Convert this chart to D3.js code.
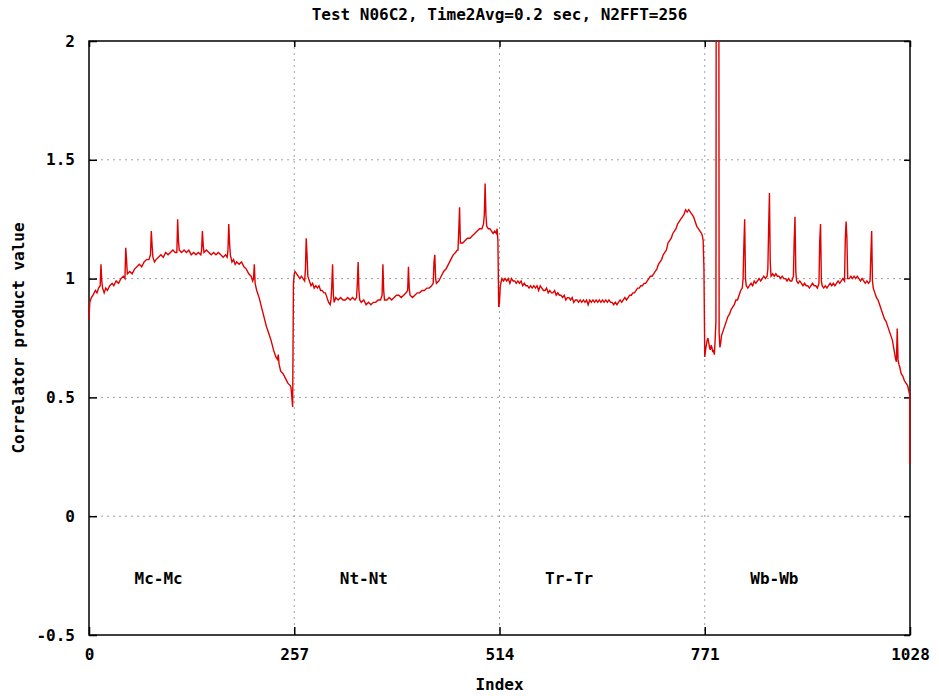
<!DOCTYPE html>
<html>
<head>
<meta charset="utf-8">
<script src="https://cdn.jsdelivr.net/npm/d3@7"></script>
<style>
  body { margin: 0; background: #fff; }
  svg text { font-family: "DejaVu Sans Mono", monospace; font-weight: bold; font-size: 16px; fill: #000; }
  .grid line { stroke: #a0a0a0; stroke-width: 1; stroke-dasharray: 2,4; }
  .axis path { display: none; }
  .axis line { stroke: #000; stroke-width: 1.5; }
</style>
</head>
<body>
<svg id="chart" width="939" height="696"></svg>
<script>
// Values, as [index, correlator product value]
var mcMc = [[0,0.83],[1,0.90],[3,0.92],[5,0.93],[8,0.95],[10,0.94],[12,0.96],[14,0.97],[15,1.06],[16,0.99],[17,0.96],[19,0.94],[21,0.96],[23,0.95],[26,0.97],[29,0.98],[31,0.97],[34,0.99],[37,0.98],[40,1.00],[43,1.01],[45,1.00],[46,1.13],[47,1.08],[48,1.02],[51,1.03],[54,1.02],[57,1.04],[60,1.05],[63,1.06],[66,1.05],[69,1.07],[72,1.08],[75,1.08],[77,1.10],[78,1.20],[79,1.14],[80,1.09],[82,1.07],[84,1.08],[87,1.09],[90,1.10],[93,1.09],[96,1.11],[99,1.10],[102,1.11],[105,1.12],[108,1.11],[110,1.11],[111,1.25],[112,1.16],[113,1.12],[116,1.11],[119,1.12],[122,1.11],[125,1.12],[128,1.10],[131,1.11],[134,1.10],[137,1.11],[140,1.10],[141,1.12],[142,1.20],[143,1.14],[144,1.11],[147,1.12],[150,1.11],[153,1.10],[156,1.11],[159,1.10],[162,1.11],[165,1.10],[168,1.09],[171,1.10],[173,1.09],[174,1.12],[175,1.23],[176,1.15],[177,1.10],[179,1.07],[181,1.08],[183,1.06],[185,1.07],[188,1.06],[191,1.07],[194,1.05],[197,1.04],[200,1.02],[203,1.01],[205,0.99],[206,1.00],[207,1.06],[208,0.98],[210,0.95],[213,0.92],[216,0.88],[219,0.84],[222,0.80],[225,0.77],[228,0.74],[231,0.70],[234,0.67],[236,0.66],[237,0.68],[238,0.64],[240,0.61],[243,0.60],[246,0.58],[249,0.56],[252,0.55],[253,0.54],[254,0.50],[255,0.46]];

var ntNt = [[256,0.98],[257,1.02],[258,1.03],[260,1.02],[262,1.01],[264,1.00],[266,1.01],[268,1.00],[270,0.99],[271,1.04],[272,1.17],[273,1.10],[274,1.01],[276,0.99],[278,0.97],[280,0.98],[282,0.96],[284,0.97],[286,0.96],[288,0.97],[290,0.95],[292,0.95],[294,0.94],[296,0.94],[298,0.92],[300,0.90],[302,0.89],[303,0.91],[304,0.97],[305,1.06],[306,0.93],[307,0.90],[309,0.92],[312,0.91],[315,0.92],[318,0.91],[321,0.91],[324,0.92],[327,0.91],[330,0.92],[333,0.91],[335,0.92],[336,0.98],[337,1.07],[338,0.95],[339,0.91],[341,0.90],[344,0.91],[347,0.89],[350,0.90],[353,0.89],[356,0.90],[359,0.90],[362,0.91],[365,0.91],[367,0.93],[368,1.06],[369,0.95],[370,0.91],[373,0.91],[376,0.92],[379,0.91],[382,0.92],[385,0.93],[388,0.93],[391,0.92],[394,0.93],[397,0.94],[399,0.95],[400,1.05],[401,0.96],[402,0.93],[405,0.92],[408,0.93],[411,0.94],[414,0.94],[417,0.95],[420,0.95],[423,0.96],[426,0.96],[429,0.97],[431,0.98],[432,1.07],[433,1.10],[434,1.00],[435,0.98],[438,0.99],[441,1.01],[444,1.03],[447,1.04],[450,1.06],[453,1.08],[456,1.10],[459,1.11],[461,1.12],[462,1.12],[463,1.20],[464,1.30],[465,1.15],[468,1.15],[471,1.16],[474,1.17],[477,1.17],[480,1.18],[483,1.19],[486,1.20],[489,1.21],[492,1.21],[494,1.23],[495,1.27],[496,1.40],[497,1.27],[498,1.22],[500,1.21],[502,1.21],[504,1.20],[506,1.19],[508,1.20],[510,1.19],[511,1.21],[512,1.16],[513,0.88]];

var trTr = [[514,0.90],[515,0.97],[517,1.00],[519,0.99],[521,1.00],[523,0.99],[525,1.00],[527,0.98],[529,1.00],[531,0.99],[533,0.99],[535,0.98],[537,0.99],[539,0.98],[541,0.99],[543,0.97],[545,0.98],[547,0.97],[549,0.97],[551,0.96],[553,0.97],[555,0.96],[557,0.97],[559,0.96],[561,0.97],[563,0.95],[565,0.97],[567,0.96],[569,0.95],[571,0.95],[573,0.96],[575,0.94],[577,0.95],[579,0.94],[581,0.94],[583,0.95],[585,0.93],[587,0.94],[589,0.93],[591,0.93],[593,0.92],[595,0.93],[597,0.91],[599,0.92],[601,0.92],[603,0.91],[605,0.92],[607,0.90],[609,0.91],[611,0.91],[613,0.90],[615,0.91],[617,0.90],[619,0.91],[621,0.90],[623,0.91],[625,0.89],[627,0.91],[629,0.90],[631,0.91],[633,0.90],[635,0.91],[637,0.90],[639,0.91],[641,0.90],[643,0.91],[645,0.90],[647,0.91],[649,0.90],[651,0.91],[653,0.90],[655,0.90],[657,0.89],[659,0.90],[661,0.89],[663,0.90],[665,0.91],[667,0.90],[669,0.91],[671,0.92],[673,0.91],[675,0.92],[677,0.93],[679,0.93],[681,0.94],[683,0.94],[685,0.95],[687,0.96],[689,0.96],[691,0.97],[693,0.97],[695,0.98],[697,0.98],[699,0.99],[701,1.00],[703,1.01],[705,1.01],[707,1.02],[709,1.03],[711,1.04],[713,1.06],[715,1.07],[717,1.08],[719,1.10],[721,1.11],[723,1.12],[725,1.15],[727,1.16],[729,1.17],[731,1.19],[733,1.20],[735,1.21],[737,1.23],[739,1.24],[741,1.25],[743,1.26],[745,1.27],[747,1.29],[749,1.28],[751,1.29],[753,1.28],[755,1.27],[757,1.26],[759,1.24],[761,1.22],[763,1.21],[765,1.20],[767,1.19],[768,1.18],[769,1.16],[770,1.04]];

var wbWb = [[771,0.67],[772,0.70],[773,0.72],[774,0.74],[775,0.75],[776,0.73],[777,0.71],[778,0.70],[779,0.72],[780,0.71],[781,0.69],[782,0.70],[783,0.68],[784,0.74],[785,0.82],[786,5.0],[787,6.0],[788,5.0],[789,0.77],[790,0.71],[791,0.73],[792,0.76],[794,0.78],[796,0.80],[798,0.82],[800,0.84],[802,0.85],[804,0.87],[806,0.88],[808,0.89],[810,0.91],[812,0.91],[814,0.93],[816,0.95],[818,0.96],[819,1.00],[820,1.14],[821,1.25],[822,1.00],[823,0.97],[825,0.96],[827,0.97],[829,0.98],[831,0.97],[833,0.99],[835,0.98],[837,0.99],[839,1.00],[841,0.99],[843,1.00],[845,1.01],[847,1.00],[849,1.01],[850,1.04],[851,1.21],[852,1.36],[853,1.07],[854,1.01],[856,1.02],[858,1.01],[860,1.02],[862,1.01],[864,1.01],[866,1.00],[868,1.01],[870,1.00],[872,1.00],[874,0.99],[876,1.00],[878,0.99],[880,0.99],[882,1.01],[883,1.16],[884,1.26],[885,1.03],[886,0.99],[888,0.98],[890,0.99],[892,0.98],[894,0.97],[896,0.98],[898,0.97],[900,0.97],[902,0.96],[904,0.97],[906,0.98],[908,0.97],[910,0.97],[912,0.96],[914,0.98],[915,1.16],[916,1.23],[917,0.99],[918,0.97],[920,0.96],[922,0.97],[924,0.96],[926,0.97],[928,0.98],[930,0.97],[932,0.98],[934,0.97],[936,0.98],[938,0.99],[940,0.98],[942,0.99],[944,1.00],[946,0.99],[947,1.17],[948,1.24],[949,1.17],[950,1.00],[952,1.00],[954,1.01],[956,1.00],[958,1.01],[960,1.00],[962,1.01],[964,1.00],[966,0.99],[968,1.00],[970,0.99],[972,0.98],[974,0.99],[976,0.98],[978,0.99],[979,1.10],[980,1.20],[981,0.99],[982,0.96],[984,0.94],[986,0.92],[988,0.91],[990,0.89],[992,0.87],[994,0.85],[996,0.83],[998,0.82],[1000,0.80],[1002,0.78],[1004,0.76],[1006,0.74],[1008,0.70],[1010,0.66],[1011,0.65],[1012,0.79],[1013,0.66],[1014,0.64],[1015,0.63],[1017,0.60],[1019,0.59],[1021,0.57],[1023,0.56],[1025,0.55],[1027,0.52],[1027.6,0.51],[1027.8,0.22]];

var xTicks = [0, 257, 514, 771, 1028];
var yTicks = [-0.5, 0, 0.5, 1, 1.5, 2];
var sectionNames = ["Mc-Mc", "Nt-Nt", "Tr-Tr", "Wb-Wb"];
var sectionIndex = [57, 314, 571, 828];  // left edge of each label
var sectionY = -0.26;

var titleText = "Test N06C2, Time2Avg=0.2 sec, N2FFT=256";

var W = 939, H = 696;
var margin = {top: 41, right: 29, bottom: 61, left: 89};
var iw = W - margin.left - margin.right;
var ih = H - margin.top - margin.bottom;

var svg = d3.select('#chart');
var g = svg.append('g').attr('transform', 'translate(' + margin.left + ',' + margin.top + ')');

var x = d3.scaleLinear().domain([0, 1028]).range([0, iw]);
var y = d3.scaleLinear().domain([-0.5, 2]).range([ih, 0]);

// Grid (dotted gray) - inner ticks only
g.append('g').attr('class', 'grid')
    .selectAll('line').data(yTicks.filter(function(d) { return d > -0.5 && d < 2; }))
    .enter().append('line')
    .attr('x1', 0).attr('x2', iw)
    .attr('y1', function(d) { return y(d); })
    .attr('y2', function(d) { return y(d); });
g.append('g').attr('class', 'grid')
    .selectAll('line').data(xTicks.filter(function(d) { return d > 0 && d < 1028; }))
    .enter().append('line')
    .attr('y1', 0).attr('y2', ih)
    .attr('x1', function(d) { return x(d); })
    .attr('x2', function(d) { return x(d); });

// Axes: ticks point inward like gnuplot, mirrored on top/right
g.append('g').attr('class', 'axis')
    .call(d3.axisLeft(y).tickValues(yTicks).tickSize(-8).tickPadding(14)
        .tickFormat(function(d) { return String(d); }));
g.append('g').attr('class', 'axis').attr('transform', 'translate(' + iw + ',0)')
    .call(d3.axisRight(y).tickValues(yTicks).tickSize(-6).tickFormat(''));
g.append('g').attr('class', 'axis').attr('transform', 'translate(0,' + ih + ')')
    .call(d3.axisBottom(x).tickValues(xTicks).tickSize(-8).tickPadding(14).tickFormat(function(d) { return String(d); }));
g.append('g').attr('class', 'axis')
    .call(d3.axisTop(x).tickValues(xTicks).tickSize(-6).tickFormat(''));

g.selectAll('.axis text').attr('font-family', null).attr('font-size', null);

// Border
g.append('rect')
    .attr('width', iw).attr('height', ih)
    .attr('fill', 'none').attr('stroke', '#000').attr('stroke-width', 1.5);

// Data line, clipped to the plot box
svg.append('clipPath').attr('id', 'clip')
    .append('rect').attr('x', -1).attr('width', iw + 2).attr('height', ih);

var series = mcMc.concat(ntNt, trTr, wbWb);
var line = d3.line()
    .x(function(d) { return x(d[0]); })
    .y(function(d) { return y(d[1]); });

g.append('path')
    .datum(series)
    .attr('clip-path', 'url(#clip)')
    .attr('fill', 'none')
    .attr('stroke', '#e00000')
    .attr('stroke-width', 1.4)
    .attr('stroke-linejoin', 'miter')
    .attr('d', line);

// Section labels
g.selectAll('.section')
    .data(sectionNames)
    .enter().append('text')
    .attr('class', 'section')
    .attr('x', function(d, i) { return x(sectionIndex[i]); })
    .attr('y', y(sectionY))
    .attr('dy', '0.35em')
    .text(function(d) { return d; });

// Title and axis labels
svg.append('text')
    .attr('x', margin.left + iw / 2).attr('y', 20)
    .attr('text-anchor', 'middle')
    .text(titleText);

svg.append('text')
    .attr('x', margin.left + iw / 2).attr('y', 690)
    .attr('text-anchor', 'middle')
    .text('Index');

svg.append('text')
    .attr('transform', 'translate(24,' + (margin.top + ih / 2) + ') rotate(-90)')
    .attr('text-anchor', 'middle')
    .text('Correlator product value');
</script>
</body>
</html>
